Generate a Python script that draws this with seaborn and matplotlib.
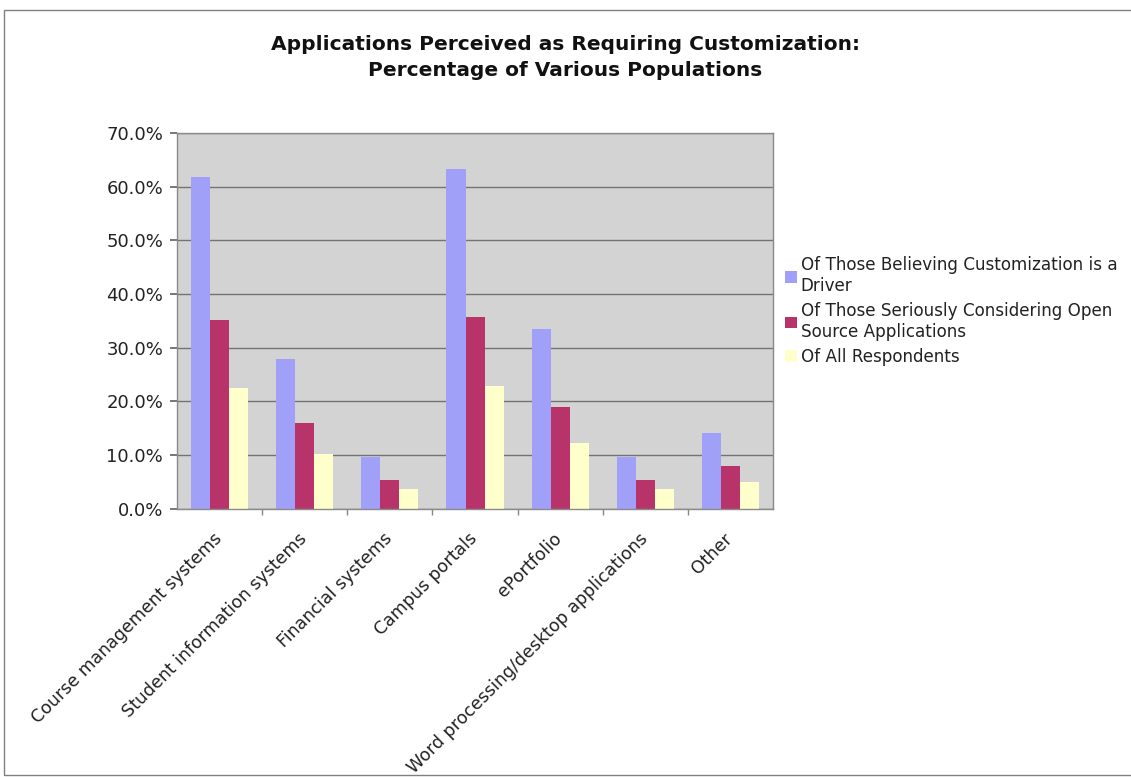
import matplotlib
matplotlib.use("Agg")
import matplotlib.pyplot as plt
import matplotlib.transforms as mtransforms
from matplotlib.patches import Rectangle
import seaborn as sns
import pandas as pd

categories = [
    "Course management systems",
    "Student information systems",
    "Financial systems",
    "Campus portals",
    "ePortfolio",
    "Word processing/desktop applications",
    "Other",
]
series_names = [
    "Of Those Believing Customization is a\nDriver",
    "Of Those Seriously Considering Open\nSource Applications",
    "Of All Respondents",
]
believing_driver = [61.8, 27.9, 9.7, 63.3, 33.5, 9.7, 14.1]
considering_open_source = [35.2, 16.0, 5.4, 35.7, 19.0, 5.4, 7.9]
all_respondents = [22.5, 10.2, 3.7, 22.9, 12.3, 3.7, 5.0]
y_ticks = [0, 10, 20, 30, 40, 50, 60, 70]

colors = ["#a0a0f8", "#b8336a", "#ffffcc"]

rows = []
for name, vals in zip(series_names, [believing_driver, considering_open_source, all_respondents]):
    for cat, v in zip(categories, vals):
        rows.append({"Application": cat, "Population": name, "Percent": v})
df = pd.DataFrame(rows)

sns.set_theme(style="white")
plt.rcParams["font.family"] = ["DejaVu Sans"]

fig = plt.figure(figsize=(11.31, 7.77), dpi=100)
fig.patch.set_facecolor("white")
ax = fig.add_axes([0.1565, 0.345, 0.527, 0.484])

sns.barplot(
    data=df, x="Application", y="Percent", hue="Population",
    order=categories, hue_order=series_names, palette=colors,
    width=0.67, saturation=1, ax=ax, legend=True,
)
for p in ax.patches:
    p.set_linewidth(0)

ax.set_facecolor("#d3d3d3")
ax.set_ylim(0, 70)
ax.set_xlim(-0.5, len(categories) - 0.5)
ax.set_yticks(y_ticks)
ax.set_yticklabels([f"{t:.1f}%" for t in y_ticks], fontsize=13, color="#222222")
ax.yaxis.grid(True, color="#737373", linewidth=1)
ax.set_axisbelow(True)
ax.set_xlabel("")
ax.set_ylabel("")
ax.set_xticks(range(len(categories)))
ax.set_xticklabels(categories, rotation=45, ha="right", rotation_mode="anchor",
                   fontsize=12.5, color="#222222")
ax.tick_params(axis="x", length=0, pad=15)
ax.tick_params(axis="y", length=5, color="#666666", left=True, pad=5)
ax.set_xticks([i + 0.5 for i in range(len(categories) - 1)], minor=True)
ax.tick_params(axis="x", which="minor", length=4, color="#888888", bottom=True)
shift = mtransforms.ScaledTranslation(-7 / 100, 0, fig.dpi_scale_trans)
for lbl in ax.get_xticklabels():
    lbl.set_transform(lbl.get_transform() + shift)
for s in ax.spines.values():
    s.set_color("#8a8a8a")
    s.set_linewidth(1)

handles, labels = ax.get_legend_handles_labels()
ax.legend(
    handles, labels, loc="upper left", bbox_to_anchor=(0.688, 0.679),
    bbox_transform=fig.transFigure, frameon=False, fontsize=12.1,
    handlelength=0.7, handleheight=0.7, handletextpad=0.25,
    labelspacing=0.42, borderaxespad=0, labelcolor="#222222",
)

fig.text(0.5, 0.955, "Applications Perceived as Requiring Customization:\nPercentage of Various Populations",
         ha="center", va="top", fontsize=14.5, fontweight="bold", linespacing=1.45, color="#111111")

# thin frame around the chart area
fig.add_artist(Rectangle((0.0035, 0.003), 1.2, 0.984, transform=fig.transFigure,
                         fill=False, edgecolor="#808080", linewidth=1))

fig.savefig("out.png", dpi=100)
